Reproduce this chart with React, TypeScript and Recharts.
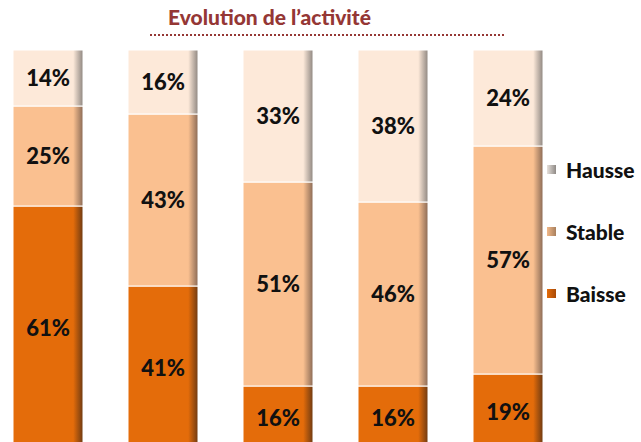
import { BarChart, Bar, XAxis, YAxis, LabelList } from 'recharts';

const periods = ['T1', 'T2', 'T3', 'T4', 'T5'];
const baisse = [61, 41, 16, 16, 19];
const stable = [25, 43, 51, 46, 57];
const hausse = [14, 16, 33, 38, 24];

const title = 'Evolution de l\u2019activité';

const series = [
  { key: 'baisse', name: 'Baisse', color: '#E46C0A', edge: '#6E3A12', box: ['#A84A08', '#E46C0A'] },
  { key: 'stable', name: 'Stable', color: '#FAC090', edge: '#8A6A55', box: ['#A8805E', '#F2B888'] },
  { key: 'hausse', name: 'Hausse', color: '#FDE9D9', edge: '#8E8680', box: ['#8F8A86', '#E6E0DB'] },
];

const data = periods.map((p, i) => ({
  period: p,
  baisse: baisse[i],
  stable: stable[i],
  hausse: hausse[i],
}));

const font = 'Lato, "Open Sans", "DejaVu Sans", sans-serif';

// legend is plain html so it doesn't eat into the plot width
function LegendBox() {
  const items = [...series].reverse();
  return (
    <div style={{ position: 'absolute', top: 138, left: 547, fontFamily: font }}>
      {items.map(s => (
        <div key={s.key} style={{ display: 'flex', alignItems: 'center', height: 62 }}>
          <span style={{
            width: 9, height: 9, marginRight: 10,
            background: `linear-gradient(to right, ${s.box[1]}, ${s.box[0]})`,
          }} />
          <span style={{ fontSize: 21, fontWeight: 900, color: '#111' }}>{s.name}</span>
        </div>
      ))}
    </div>
  );
}

export default function App() {
  return (
    <div style={{
      position: 'fixed', top: 0, left: 0, width: 641, height: 442,
      overflow: 'hidden', background: '#fff',
    }}>
      <div style={{
        position: 'absolute', top: 4, left: 150, width: 354,
        paddingLeft: 18, boxSizing: 'border-box',
        fontFamily: font, fontWeight: 900,
        fontSize: 21, color: '#953735', paddingBottom: 5,
        borderBottom: '2px dotted #953735',
      }}>
        {title}
      </div>
      <div style={{ position: 'absolute', top: 0, left: -10.5 }}>
        <BarChart
          width={660}
          height={460}
          data={data}
          margin={{ top: 50, right: 85, bottom: 10, left: 0 }}
          barSize={70}
        >
          <defs>
            {series.map(s => (
              <linearGradient key={s.key} id={`g-${s.key}`} x1="0" y1="0" x2="1" y2="0">
                <stop offset="0%" stopColor={s.color} />
                <stop offset="86%" stopColor={s.color} />
                <stop offset="100%" stopColor={s.edge} />
              </linearGradient>
            ))}
          </defs>
          <XAxis dataKey="period" hide />
          <YAxis hide domain={[0, 100]} />
          {series.map(s => (
            <Bar
              key={s.key}
              dataKey={s.key}
              name={s.name}
              stackId="a"
              fill={`url(#g-${s.key})`}
              stroke="#fff"
              strokeWidth={1}
              isAnimationActive={false}
            >
              <LabelList
                dataKey={s.key}
                position="center"
                formatter={(v: number) => `${v}%`}
                style={{ fontFamily: font, fontWeight: 900, fontSize: 22, fill: '#111' }}
              />
            </Bar>
          ))}
        </BarChart>
      </div>
      <LegendBox />
    </div>
  );
}
